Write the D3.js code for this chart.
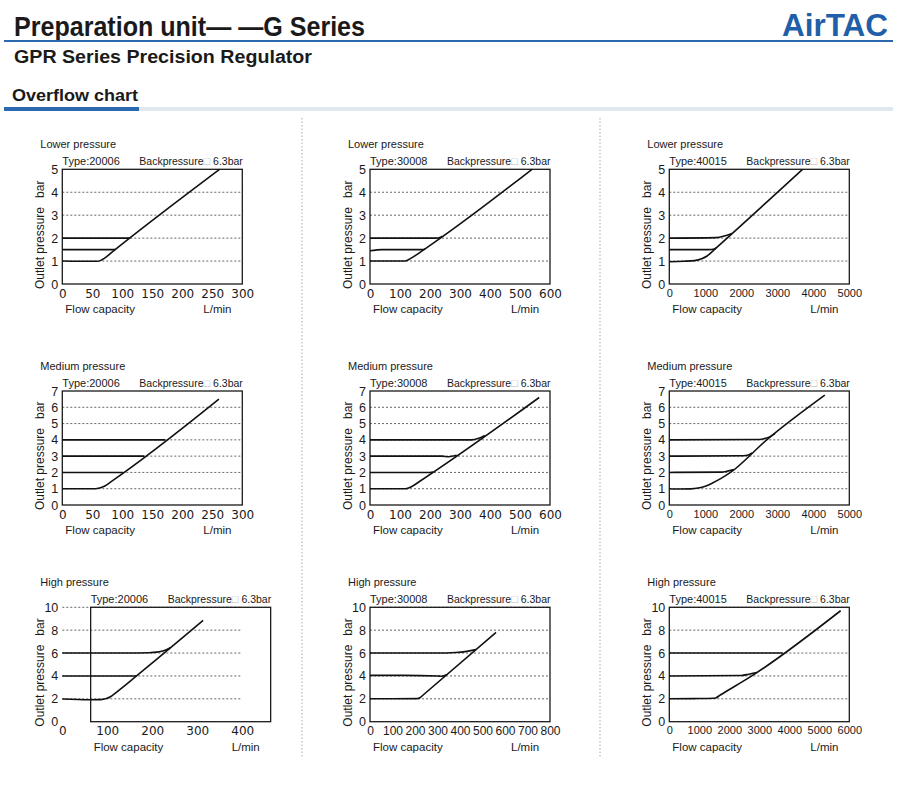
<!DOCTYPE html>
<html>
<head>
<meta charset="utf-8">
<script src="https://cdn.jsdelivr.net/npm/d3@7"></script>
<style>
  body { margin: 0; background: #fff; }
  svg text { font-family: "Liberation Sans", Arial, sans-serif; fill: #1a1a1a; }
</style>
</head>
<body>
<svg id="chart" width="900" height="786"></svg>
<script>
// Rows = pressure range, columns = model type
const rowTitles = ["Lower pressure", "Medium pressure", "High pressure"];
const types = ["20006", "30008", "40015"];
const backpressure = "6.3bar";

// Axis maxima and tick labels
const xMaxLow = [300, 600, 5000];
const xMaxMed = [300, 600, 5000];
const xMaxHigh = [400, 800, 6000];
const xTicksLow = [[0, 50, 100, 150, 200, 250, 300], [0, 100, 200, 300, 400, 500, 600], [0, 1000, 2000, 3000, 4000, 5000]];
const xTicksMed = [[0, 50, 100, 150, 200, 250, 300], [0, 100, 200, 300, 400, 500, 600], [0, 1000, 2000, 3000, 4000, 5000]];
const xTicksHigh = [[0, 100, 200, 300, 400], [0, 100, 200, 300, 400, 500, 600, 700, 800], [0, 1000, 2000, 3000, 4000, 5000, 6000]];
const yMax = [5, 7, 10];
const yTicks = [[0, 1, 2, 3, 4, 5], [0, 1, 2, 3, 4, 5, 6, 7], [0, 2, 4, 6, 8, 10]];
const yGrid = [[1, 2, 3, 4], [1, 2, 3, 4, 5, 6], [2, 4, 6, 8, 10]];
// the high-pressure 20006 box is drawn offset from its axis in the original
const frameHigh20006 = [63, 463];

// Curves: [flow L/min, outlet pressure bar], one list per set pressure
const low20006 = [
  [[0, 1.0], [30, 0.99], [58, 0.99], [64, 1.03], [70, 1.12], [88, 1.5], [262, 5]],
  [[0, 1.5], [86, 1.5], [89, 1.52]],
  [[0, 2.0], [110, 2.0], [113, 2.02]]
];
const low30008 = [
  [[0, 1.0], [60, 1.0], [110, 1.0], [125, 1.04], [140, 1.15], [180, 1.5], [540, 5]],
  [[0, 1.45], [40, 1.5], [175, 1.5], [184, 1.53]],
  [[0, 2.0], [220, 2.0], [235, 2.04], [241, 2.09]]
];
const low40015 = [
  [[0, 0.97], [400, 0.99], [700, 1.02], [900, 1.1], [1050, 1.22], [1250, 1.5], [3700, 5]],
  [[0, 1.5], [1100, 1.5], [1250, 1.53], [1300, 1.57]],
  [[0, 2.0], [1300, 2.02], [1550, 2.1], [1740, 2.2]]
];
const med20006 = [
  [[0, 1.0], [30, 1.0], [55, 1.0], [62, 1.04], [70, 1.15], [82, 1.45], [261, 6.5]],
  [[0, 2], [101, 2]],
  [[0, 3], [137, 3]],
  [[0, 4], [172, 4]]
];
const med30008 = [
  [[0, 1.0], [60, 1.0], [118, 1.0], [130, 1.06], [145, 1.2], [160, 1.38], [564, 6.6]],
  [[0, 2], [200, 2], [210, 2.03]],
  [[0, 3], [240, 3.0], [262, 2.96], [289, 3.05]],
  [[0, 4], [340, 4], [360, 4.08], [383, 4.27]]
];
const med40015 = [
  [[0, 1.0], [300, 0.98], [600, 0.99], [800, 1.04], [1000, 1.15], [1200, 1.35], [1450, 1.65], [1700, 2], [2705, 4], [4320, 6.75]],
  [[0, 2], [1450, 2.02], [1600, 2.07], [1790, 2.18]],
  [[0, 3], [2050, 3.02], [2200, 3.07], [2300, 3.2]],
  [[0, 4], [2500, 4.02], [2650, 4.08], [2800, 4.2], [2940, 4.4]]
];
const high20006 = [
  [[0, 1.98], [60, 1.92], [85, 1.93], [98, 2.02], [108, 2.2], [118, 2.5], [165, 4], [313, 8.85]],
  [[0, 4], [165, 4]],
  [[0, 6], [150, 6], [190, 6.03], [210, 6.08], [225, 6.2], [240, 6.47]]
];
const high30008 = [
  [[0, 2], [100, 2], [210, 2.02], [222, 2.1], [240, 2.4], [560, 7.8]],
  [[0, 4.05], [150, 4.05], [300, 4.0], [318, 3.97], [341, 4.1]],
  [[0, 6], [300, 6], [380, 6.05], [430, 6.15], [471, 6.3]]
];
const high40015 = [
  [[0, 2], [800, 2.02], [1480, 2.05], [1560, 2.1], [1700, 2.33], [2750, 4], [5710, 9.7]],
  [[0, 4], [2400, 4.04], [2650, 4.15], [2906, 4.3]],
  [[0, 6], [3780, 6]]
];

const curves = [[low20006, low30008, low40015], [med20006, med30008, med40015], [high20006, high30008, high40015]];
const xMax = [xMaxLow, xMaxMed, xMaxHigh];
const xTicks = [xTicksLow, xTicksMed, xTicksHigh];

// layout
const colLeft = [62.3, 370, 669.3];
const plotW = 180;
const rowTop = [169.3, 391, 607.3];
const rowBottom = [284, 505, 721.7];
const blue = "#2a68b0";

const svg = d3.select("#chart");

// ---- page header ----
svg.append("text")
  .attr("x", 14).attr("y", 36)
  .attr("font-family", "'Liberation Sans Narrow', 'DejaVu Sans Condensed', sans-serif")
  .attr("font-weight", "bold").attr("font-size", 28)
  .attr("textLength", 351).attr("lengthAdjust", "spacingAndGlyphs")
  .text("Preparation unit— —G  Series");

svg.append("text")
  .attr("x", 782).attr("y", 36)
  .attr("font-family", "Inter, 'Liberation Sans', sans-serif")
  .attr("font-weight", 900).attr("font-size", 31)
  .attr("textLength", 106).attr("lengthAdjust", "spacingAndGlyphs")
  .style("fill", "#1f5ea8")
  .text("AirTAC");

svg.append("rect").attr("x", 4).attr("y", 40).attr("width", 889).attr("height", 2).attr("fill", blue);

svg.append("text")
  .attr("x", 14).attr("y", 63)
  .attr("font-weight", "bold").attr("font-size", 17.5)
  .attr("textLength", 298).attr("lengthAdjust", "spacingAndGlyphs")
  .text("GPR Series Precision Regulator");

svg.append("text")
  .attr("x", 12).attr("y", 101)
  .attr("font-weight", "bold").attr("font-size", 16)
  .attr("textLength", 126).attr("lengthAdjust", "spacingAndGlyphs")
  .text("Overflow chart");

svg.append("rect").attr("x", 4).attr("y", 107).attr("width", 889).attr("height", 4).attr("fill", "#e1e7ef");
svg.append("rect").attr("x", 4).attr("y", 107).attr("width", 135).attr("height", 4).attr("fill", blue);

// dotted column separators
[302, 600].forEach(x => {
  svg.append("line")
    .attr("x1", x).attr("x2", x).attr("y1", 118).attr("y2", 758)
    .attr("stroke", "#aaa").attr("stroke-width", 1).attr("stroke-dasharray", "1.5,2");
});

// ---- one chart ----
function drawChart(r, c) {
  const g = svg.append("g");
  const x = d3.scaleLinear().domain([0, xMax[r][c]]).range([colLeft[c], colLeft[c] + plotW]);
  const y = d3.scaleLinear().domain([0, yMax[r]]).range([rowBottom[r], rowTop[r]]);
  const frame = (r === 2 && c === 0) ? frameHigh20006 : [0, xMax[r][c]];
  const fx0 = x(frame[0]);

  // grid
  g.selectAll(".grid").data(yGrid[r]).enter().append("line")
    .attr("x1", x(0)).attr("x2", x(xMax[r][c]))
    .attr("y1", d => y(d)).attr("y2", d => y(d))
    .attr("stroke", "#555").attr("stroke-width", 0.9).attr("stroke-dasharray", "2,2");

  // frame
  g.append("rect")
    .attr("x", fx0).attr("y", y(yMax[r]))
    .attr("width", x(frame[1]) - fx0).attr("height", y(0) - y(yMax[r]))
    .attr("fill", "none").attr("stroke", "#1a1a1a").attr("stroke-width", 1.3);

  // curves
  const line = d3.line().x(d => x(d[0])).y(d => y(d[1])).curve(d3.curveMonotoneX);
  g.selectAll(".curve").data(curves[r][c]).enter().append("path")
    .attr("d", line)
    .attr("fill", "none").attr("stroke", "#111").attr("stroke-width", 1.6);

  // axes
  const xAxis = g.append("g").attr("transform", `translate(0,${rowBottom[r]})`)
    .call(d3.axisBottom(x).tickValues(xTicks[r][c]).tickSize(0).tickPadding(5).tickFormat(d3.format("d")));
  const yAxis = g.append("g").attr("transform", `translate(${colLeft[c]},0)`)
    .call(d3.axisLeft(y).tickValues(yTicks[r]).tickSize(0).tickPadding(4).tickFormat(d3.format("d")));
  [xAxis, yAxis].forEach(a => {
    a.select(".domain").remove();
    a.attr("font-family", null).attr("font-size", null);
  });
  yAxis.selectAll("text").attr("font-size", 12.5).style("fill", "#1a1a1a");
  // wide digits where there is room, narrower where labels are crowded
  const crowded = c === 2 || (r === 2 && c === 1);
  xAxis.selectAll("text")
    .style("font-family", crowded ? "'Liberation Sans', Arial, sans-serif" : "'DejaVu Sans', sans-serif")
    .attr("font-size", c === 2 ? 11 : 12)
    .style("fill", "#1a1a1a");

  // labels
  g.append("text").attr("x", colLeft[c] - 22).attr("y", rowTop[r] - 21)
    .attr("font-size", 11).text(rowTitles[r]);
  g.append("text").attr("x", fx0).attr("y", rowTop[r] - 4)
    .attr("font-size", 11).text("Type:" + types[c]);
  const bp = g.append("text").attr("x", fx0 + 77).attr("y", rowTop[r] - 4)
    .attr("font-size", 10.5);
  bp.append("tspan").text("Backpressure");
  bp.append("tspan").attr("font-size", 11).style("fill", "#bbb").text("□");
  bp.append("tspan").text(" " + backpressure);

  g.append("text").attr("x", fx0 + 3).attr("y", rowBottom[r] + 29)
    .attr("font-size", 11.5).text("Flow capacity");
  g.append("text").attr("x", fx0 + 141).attr("y", rowBottom[r] + 29)
    .attr("font-size", 11.5).text("L/min");

  const yl = g.append("text")
    .attr("transform", `translate(${colLeft[c] - 18},${rowBottom[r] + 5}) rotate(-90)`)
    .attr("font-size", 12);
  yl.append("tspan").text("Outlet pressure");
  yl.append("tspan").attr("dx", 9).text("bar");
}

for (let r = 0; r < 3; r++) {
  for (let c = 0; c < 3; c++) drawChart(r, c);
}
</script>
</body>
</html>
